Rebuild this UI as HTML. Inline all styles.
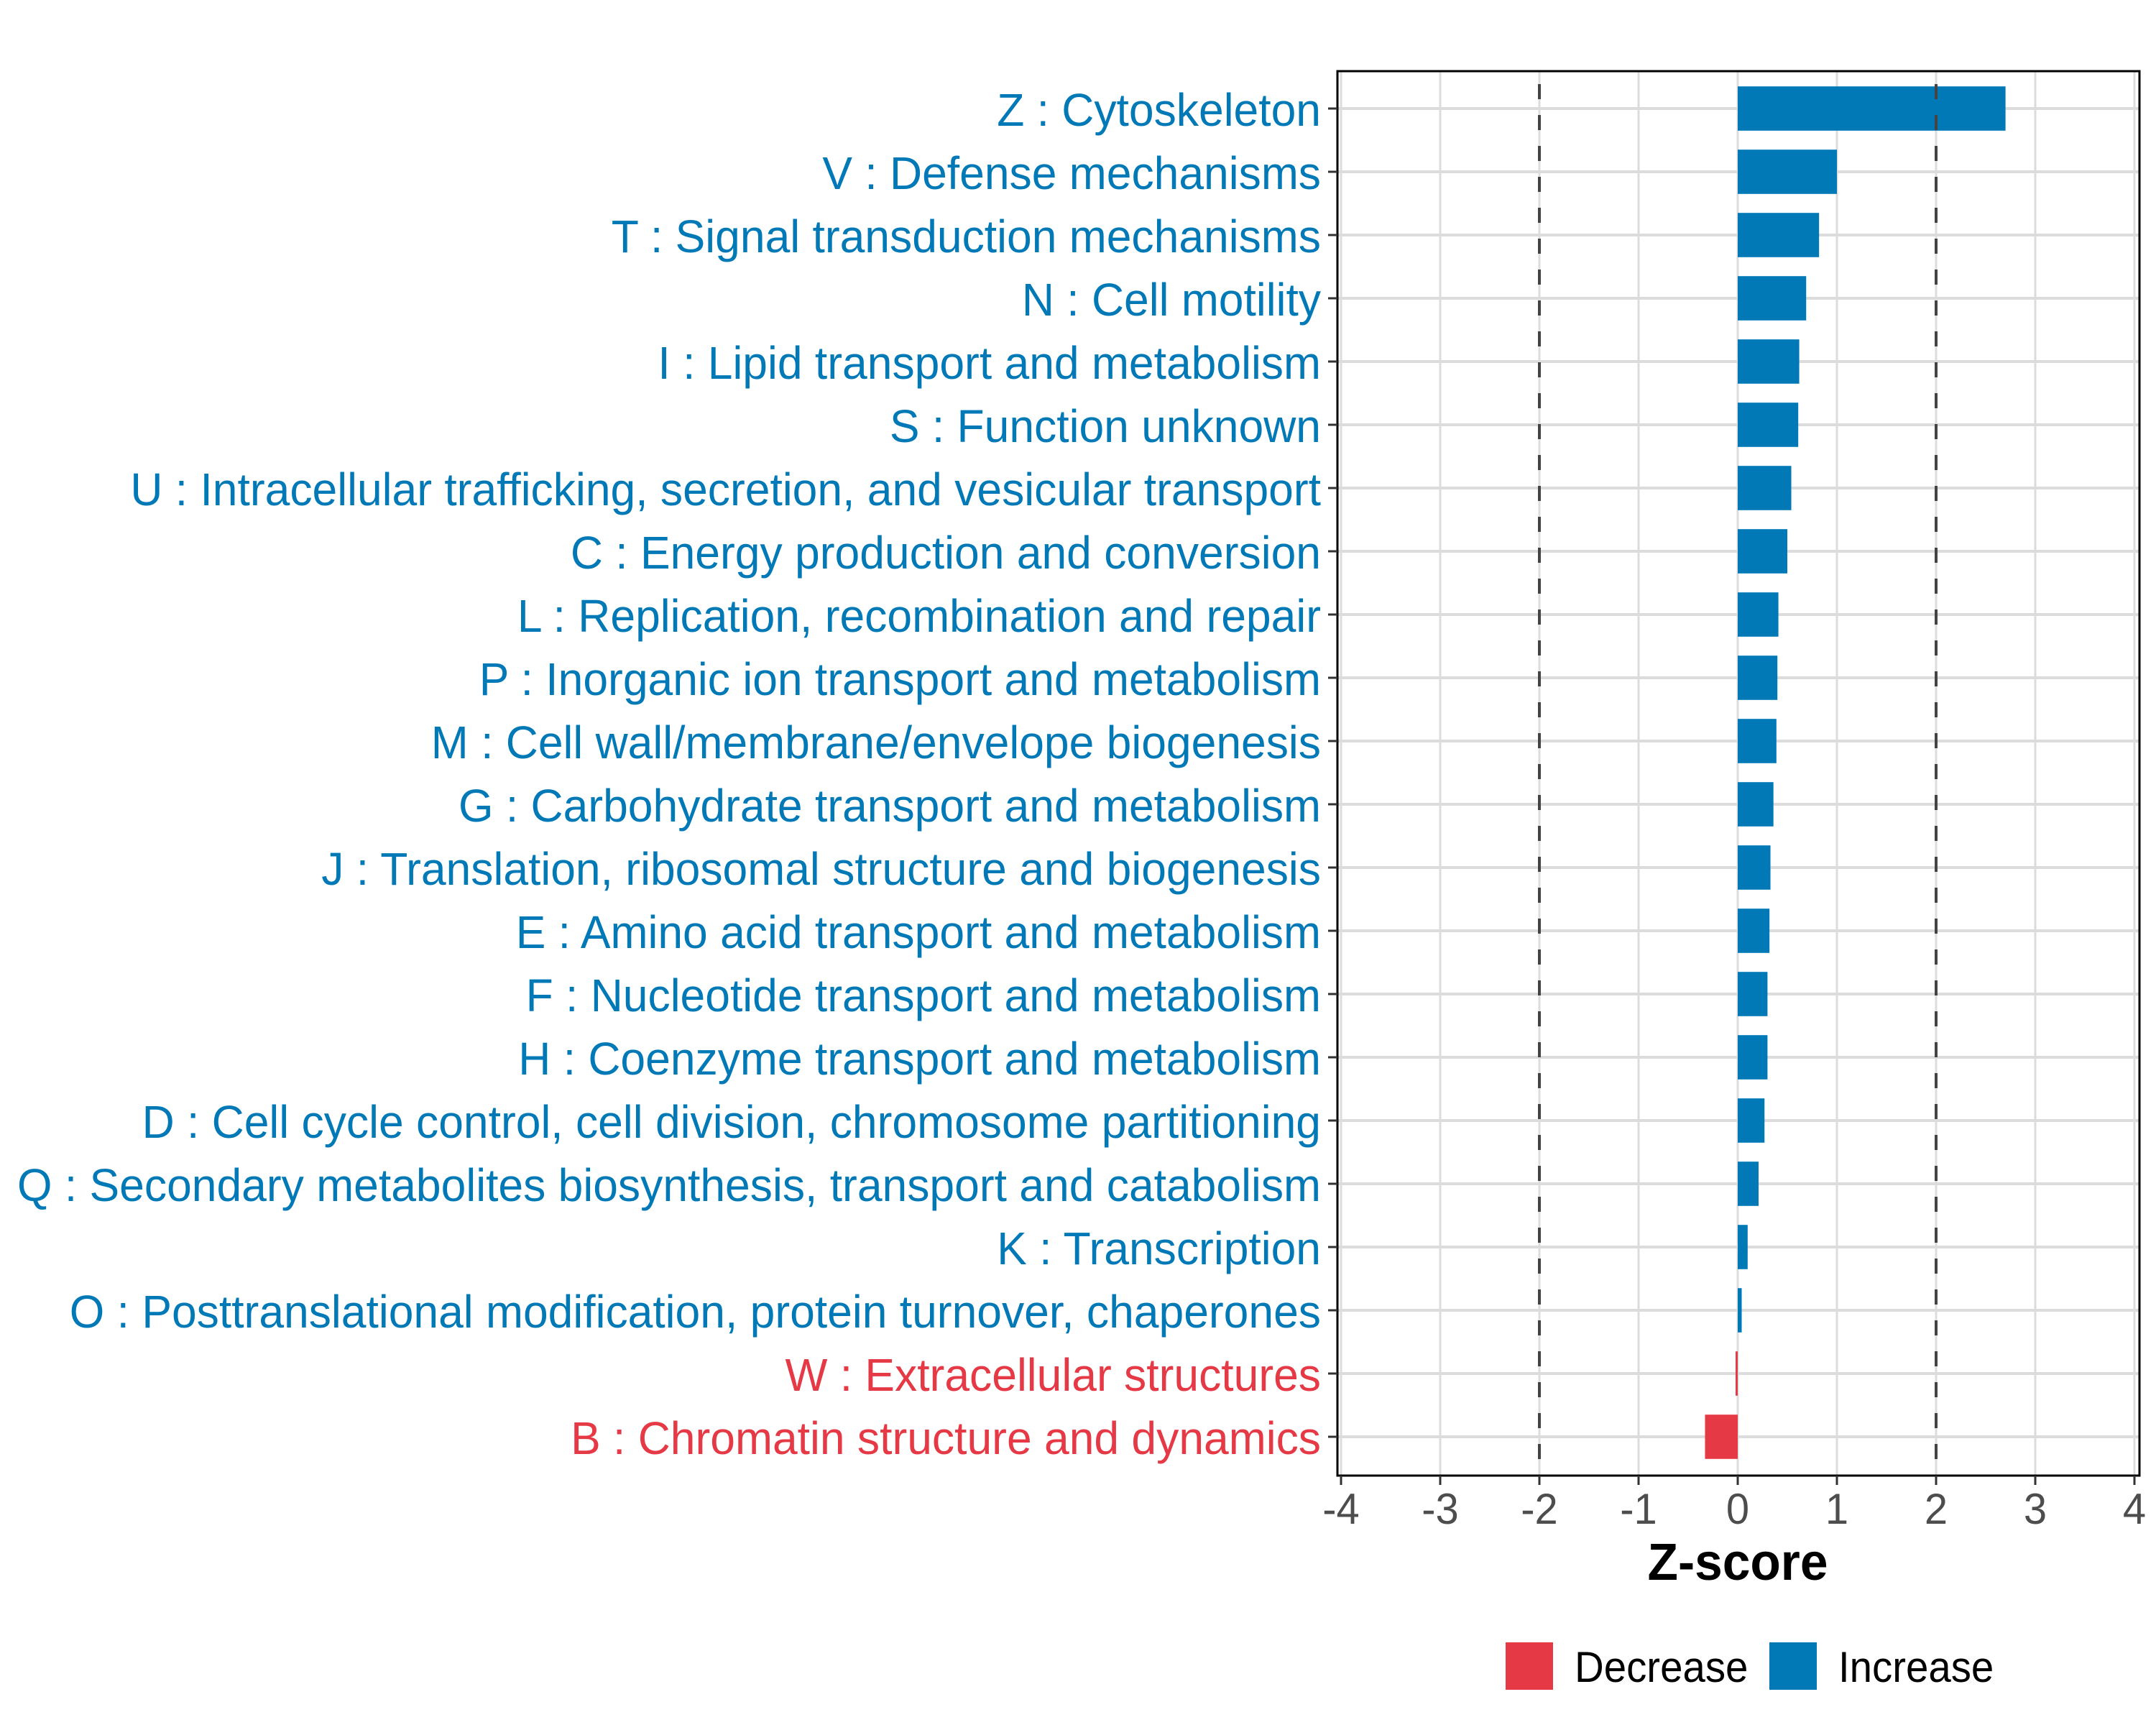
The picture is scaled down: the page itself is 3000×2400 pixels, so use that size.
<!DOCTYPE html>
<html><head><meta charset="utf-8"><style>
html,body{margin:0;padding:0;background:#fff;}
svg{display:block;font-family:"Liberation Sans",Arial,sans-serif;}
</style></head><body>
<svg id="chart" width="3000" height="2400" viewBox="0 0 3000 2400" xmlns="http://www.w3.org/2000/svg">
<rect x="0" y="0" width="3000" height="2400" fill="#fff"/>
<g id="grid"></g>
<g id="bars"></g>
<g id="refs"></g>
<rect x="1861" y="99" width="1116" height="1954" fill="none" stroke="#000" stroke-width="3"/>
<g id="ylabels"></g>
<g id="xaxis"></g>
<text class="sq" x="2418" y="2198" font-size="72" font-weight="bold" text-anchor="middle" fill="#000">Z-score</text>
<g>
<rect x="2095" y="2285" width="66" height="66" fill="#E63946"/>
<text class="lg" x="2191" y="2340" font-size="60" fill="#000">Decrease</text>
<rect x="2462" y="2285" width="66" height="66" fill="#0279B7"/>
<text class="lg" x="2558" y="2340" font-size="60" fill="#000">Increase</text>
</g>
</svg>
<script>
const categories = ["Z : Cytoskeleton","V : Defense mechanisms","T : Signal transduction mechanisms","N : Cell motility","I : Lipid transport and metabolism","S : Function unknown","U : Intracellular trafficking, secretion, and vesicular transport","C : Energy production and conversion","L : Replication, recombination and repair","P : Inorganic ion transport and metabolism","M : Cell wall/membrane/envelope biogenesis","G : Carbohydrate transport and metabolism","J : Translation, ribosomal structure and biogenesis","E : Amino acid transport and metabolism","F : Nucleotide transport and metabolism","H : Coenzyme transport and metabolism","D : Cell cycle control, cell division, chromosome partitioning","Q : Secondary metabolites biosynthesis, transport and catabolism","K : Transcription","O : Posttranslational modification, protein turnover, chaperones","W : Extracellular structures","B : Chromatin structure and dynamics"];
const zscores = [2.70,1.00,0.82,0.69,0.62,0.61,0.54,0.50,0.41,0.40,0.39,0.36,0.33,0.32,0.30,0.30,0.27,0.21,0.10,0.04,-0.02,-0.33];
const xTicks = [-4,-3,-2,-1,0,1,2,3,4];
const xTickLabels = ["-4","-3","-2","-1","0","1","2","3","4"];
const refLines = [-2,2];

const NS="http://www.w3.org/2000/svg";
const X0=2418, UNIT=138.0, PL=1861, PR=2977, PT=99, PB=2053;
const ROW0=151, STEP=88;
function xs(v){return X0+v*UNIT;}
function ys(i){return ROW0+i*STEP;}
function mk(tag,attrs,parent){const e=document.createElementNS(NS,tag);for(const k in attrs)e.setAttribute(k,attrs[k]);parent.appendChild(e);return e;}
const grid=document.getElementById('grid'),bars=document.getElementById('bars'),refs=document.getElementById('refs'),yl=document.getElementById('ylabels'),xa=document.getElementById('xaxis');
xTicks.forEach(v=>{const l=mk('line',{x1:xs(v),x2:xs(v),y1:PT,y2:PB,stroke:'#dcdcdc','stroke-width':3},grid);

});
categories.forEach((c,i)=>{const l=mk('line',{x1:PL,x2:PR,y1:ys(i),y2:ys(i),stroke:'#dcdcdc','stroke-width':4},grid);

});
zscores.forEach((v,i)=>{const col=v<0?'#E63946':'#0279B7';const x1=Math.min(xs(0),xs(v)),w=Math.max(Math.abs(xs(v)-xs(0)),v<0?3:0);
const r=mk('rect',{x:v<0?xs(0)-w:x1,y:ys(i)-30.8,width:w,height:61.6,fill:col},bars);


const t=mk('text',{x:1838,y:ys(i)+24,'font-size':64,'text-anchor':'end',fill:col,'class':'yl'},yl);t.textContent=categories[i];


const tk=mk('line',{x1:1848,x2:PL,y1:ys(i),y2:ys(i),stroke:'#333','stroke-width':3},yl);

});
refLines.forEach(v=>{const l=mk('line',{x1:xs(v),x2:xs(v),y1:PT,y2:PB,stroke:'#444','stroke-width':4,'stroke-dasharray':'21 22','stroke-dashoffset':'-18'},refs);

});
xTicks.forEach((v,i)=>{const tk=mk('line',{x1:xs(v),x2:xs(v),y1:PB,y2:PB+13,stroke:'#333','stroke-width':3},xa);


const t=mk('text',{x:xs(v),y:2120,'font-size':60,'text-anchor':'middle',fill:'#4d4d4d','class':'sq'},xa);t.textContent=xTickLabels[i];

});
function squash(sel,f){document.querySelectorAll(sel).forEach(t=>{const L=t.getComputedTextLength();t.setAttribute('textLength',(L*f).toFixed(1));t.setAttribute('lengthAdjust','spacingAndGlyphs');});}
squash('text.sq',0.965);
squash('text.yl',0.975);
squash('text.lg',0.94);
</script>
</body></html>
